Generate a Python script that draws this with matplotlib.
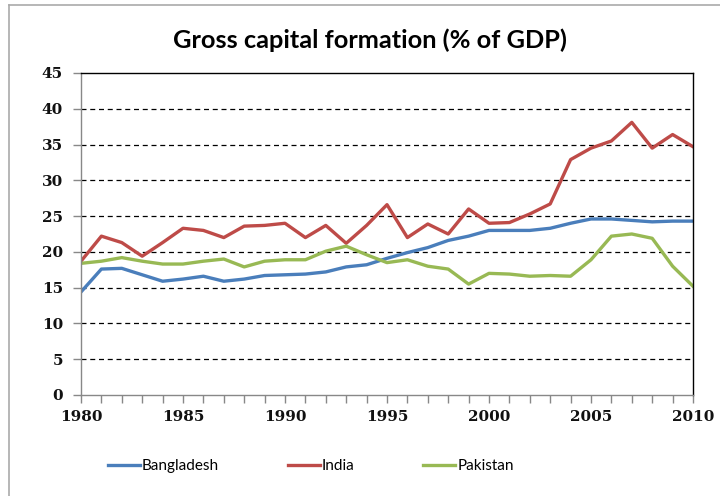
import numpy as np
import matplotlib
matplotlib.use("Agg")
import matplotlib.pyplot as plt
from matplotlib.lines import Line2D

years = list(range(1980, 2011))

bangladesh = [14.4, 17.6, 17.7, 16.8, 15.9, 16.2, 16.6, 15.9, 16.2, 16.7,
              16.8, 16.9, 17.2, 17.9, 18.2, 19.1, 19.9, 20.6, 21.6, 22.2,
              23.0, 23.0, 23.0, 23.3, 24.0, 24.6, 24.6, 24.4, 24.2, 24.3, 24.3]
india = [18.7, 22.2, 21.3, 19.4, 21.3, 23.3, 23.0, 22.0, 23.6, 23.7,
         24.0, 22.0, 23.7, 21.2, 23.7, 26.6, 22.0, 23.9, 22.5, 26.0,
         24.0, 24.1, 25.3, 26.7, 32.9, 34.5, 35.5, 38.1, 34.5, 36.4, 34.7]
pakistan = [18.4, 18.7, 19.2, 18.7, 18.3, 18.3, 18.7, 19.0, 17.9, 18.7,
            18.9, 18.9, 20.1, 20.8, 19.6, 18.5, 18.9, 18.0, 17.6, 15.5,
            17.0, 16.9, 16.6, 16.7, 16.6, 18.9, 22.2, 22.5, 21.9, 18.0, 15.2]

series = [("Bangladesh", bangladesh, "#4a7ebb"),
          ("India", india, "#be4b48"),
          ("Pakistan", pakistan, "#98b954")]

plt.rcParams['font.family'] = ['Lato', 'DejaVu Sans']

fig = plt.figure(figsize=(7.2, 4.96), dpi=100)
ax = fig.add_axes([81/720, 1 - 395/496, (693 - 81)/720, (395 - 73)/496])

for name, vals, col in series:
    ax.plot(years, vals, color=col, lw=2.4, label=name, solid_joinstyle='round')

ax.set_xlim(1980, 2010)
ax.set_ylim(0, 45)
ax.set_yticks(range(0, 50, 5))
ax.set_xticks(range(1980, 2011, 5))
ax.set_xticks(years, minor=True)

for v in range(5, 45, 5):
    ax.axhline(v, color='black', lw=0.9, ls=(0, (4, 3)), zorder=0)

for s in ['top', 'right']:
    ax.spines[s].set_color('black')
    ax.spines[s].set_linewidth(1.0)
for s in ['left', 'bottom']:
    ax.spines[s].set_color('#888888')
    ax.spines[s].set_linewidth(1.0)

ax.tick_params(axis='both', which='both', direction='out', color='#888888', width=1)
ax.tick_params(axis='y', length=6, pad=7)
ax.tick_params(axis='x', which='both', length=6, pad=5)
for lab in ax.get_xticklabels() + ax.get_yticklabels():
    lab.set_fontfamily('DejaVu Serif')
    lab.set_fontweight('bold')
    lab.set_fontsize(11)
    lab.set_color('#111111')

fig.text(0.514, 1 - 40/496, "Gross capital formation (% of GDP)",
         ha='center', va='center', fontsize=18.3, fontweight='bold')

handles = [Line2D([0], [0], color=c, lw=2.4) for _, _, c in series]
leg = fig.legend(handles, [n for n, _, _ in series], loc='center',
                 bbox_to_anchor=(311/720, 1 - 466/496), ncol=3, frameon=False,
                 fontsize=11, handlelength=2.1, handletextpad=0.12,
                 columnspacing=4.5)

# outer chart border (top and left visible)
fig.add_artist(Line2D([9/720, 9/720], [0, 1 - 5/496], color='#aaaaaa', lw=1.2,
                      transform=fig.transFigure))
fig.add_artist(Line2D([9/720, 1], [1 - 5/496, 1 - 5/496], color='#aaaaaa', lw=1.2,
                      transform=fig.transFigure))

fig.savefig("out.png", dpi=100)
